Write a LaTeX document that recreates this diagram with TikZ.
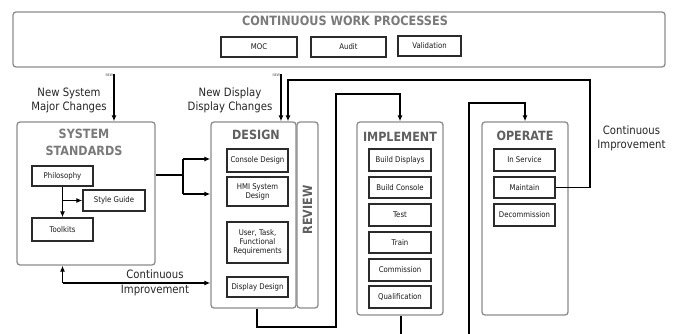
\documentclass[tikz,border=0pt]{standalone}
\usepackage{fontspec}
\setmainfont{DejaVu Sans}[FakeStretch=0.88]
\usetikzlibrary{arrows.meta}
\definecolor{panelline}{HTML}{8C8C8C}
\definecolor{titlegray}{HTML}{606060}
\definecolor{toptitle}{HTML}{7A7A7A}
\definecolor{itemline}{HTML}{2A2A2A}

\begin{document}
\begin{tikzpicture}[x=1pt,y=-1pt,
  panel/.style={draw=panelline, line width=1.3pt, rounded corners=3pt, fill=white, inner sep=0pt},
  item/.style={draw=itemline, line width=1.3pt, fill=white, align=center,
    font=\fontsize{7.9}{9}\selectfont, inner sep=1pt, text=black!90},
  phase/.style={font=\fontsize{12.7}{17}\selectfont\bfseries, text=titlegray, align=center},
  flow/.style={line width=1.6pt, black},
  arr/.style={-{Latex[length=6pt,width=5pt]}},
  note/.style={font=\fontsize{11.5}{14}\selectfont, align=center, text=black!85},
  newtag/.style={font=\fontsize{3.5}{4}\selectfont, inner sep=0pt, text=black!70}]

\fill[white] (0,0) rectangle (680,334);
\useasboundingbox (0,0) rectangle (680,334);
\clip (0,0) rectangle (680,334);

% Continuous work processes band
\node[panel, minimum width=652pt, minimum height=55pt] (cwp) at (339,39.5) {};
\node[font=\fontsize{12.8}{14}\selectfont\bfseries, text=toptitle] (cwpt) at (345,21) {CONTINUOUS WORK PROCESSES};
\node[item, minimum width=76pt, minimum height=20pt] (moc) at (259,47) {MOC};
\node[item, minimum width=75pt, minimum height=20pt] (audit) at (348.5,47) {Audit};
\node[item, minimum width=63pt, minimum height=20pt] (valid) at (429.5,46) {Validation};

% System standards
\node[panel, minimum width=138pt, minimum height=143pt] (std) at (86,193.5) {};
\node[phase, text=toptitle] (stdt) at (84,142) {SYSTEM\\STANDARDS};
\node[item, minimum width=61pt, minimum height=20pt] (phil) at (62.5,176) {Philosophy};
\node[item, minimum width=62pt, minimum height=21pt] (style) at (114,200.5) {Style Guide};
\node[item, minimum width=61pt, minimum height=23pt] (tools) at (62.5,229.5) {Toolkits};

% Design and review
\node[panel, minimum width=85pt, minimum height=186pt] (design) at (253.5,215) {};
\node[panel, minimum width=21pt, minimum height=186pt] (review) at (307.5,215) {};
\node[phase] (designt) at (256,135) {DESIGN};
\node[phase, rotate=90] (reviewt) at (307.5,210) {REVIEW};
\node[item, minimum width=61pt, minimum height=23pt] (console) at (257.5,160.5) {Console Design};
\node[item, minimum width=61pt, minimum height=29pt] (hmi) at (257.5,191.5) {HMI System\\Design};
\node[item, minimum width=61pt, minimum height=41pt] (user) at (257.5,242.5) {User, Task,\\Functional\\Requirements};
\node[item, minimum width=61pt, minimum height=20pt] (disp) at (257.5,287) {Display Design};

% Implement
\node[panel, minimum width=86pt, minimum height=193pt] (impl) at (400,218.5) {};
\node[phase] (implt) at (400,137) {IMPLEMENT};
\node[item, minimum width=62pt, minimum height=22pt] (bdisp) at (400,160) {Build Displays};
\node[item, minimum width=62pt, minimum height=21pt] (bcons) at (400,187.5) {Build Console};
\node[item, minimum width=62pt, minimum height=22pt] (test) at (400,215) {Test};
\node[item, minimum width=62pt, minimum height=21pt] (train) at (400,242.5) {Train};
\node[item, minimum width=62pt, minimum height=22pt] (comm) at (400,270) {Commission};
\node[item, minimum width=62pt, minimum height=22pt] (qual) at (400,297) {Qualification};

% Operate
\node[panel, minimum width=86pt, minimum height=193pt] (oper) at (525,218.5) {};
\node[phase] (opert) at (525,136) {OPERATE};
\node[item, minimum width=61pt, minimum height=22pt] (insvc) at (524.5,160) {In Service};
\node[item, minimum width=61pt, minimum height=21pt] (maint) at (524.5,187.5) {Maintain};
\node[item, minimum width=61pt, minimum height=22pt] (decom) at (524.5,215) {Decommission};

% Labels
\node[note] (nsys) at (69,100) {New System\\Major Changes};
\node[note] (ndisp) at (230,100) {New Display\\Display Changes};
\node[note] (ciright) at (631.5,138) {Continuous\\Improvement};
\node[note, font=\fontsize{11.5}{14.5}\selectfont] (cileft) at (155,283) {Continuous\\Improvement};

% Inside system standards
\draw[flow, line width=1.3pt, arr] (phil.south) -- (tools.north);
\draw[flow, line width=1.3pt, arr] (phil.south |- style.west) -- (style.west);

% Standards feed design
\coordinate (split) at (183,175);
\coordinate (splitA) at (183,159);
\coordinate (splitB) at (183,194);
\draw[flow] (std.east |- split) -- (split);
\draw[flow] (splitA) -- (splitB);
\draw[flow, arr] (splitA) -- (splitA -| design.west);
\draw[flow, arr] (splitB) -- (splitB -| design.west);

% Continuous improvement between design and standards
\coordinate (ciL) at (62.5,283);
\draw[flow, arr] (ciL) -- (ciL -| design.west);
\draw[flow, arr] (ciL) -- (ciL |- std.south);

% New inputs
\coordinate (newA) at (114,74);
\draw[flow, arr] (newA) -- (newA |- std.north);
\node[newtag, anchor=east] (tagA) at (113,75) {NEW};
\coordinate (newB) at (281,74);
\draw[flow, arr] (newB) -- (newB |- design.north);
\node[newtag, anchor=east] (tagB) at (280,75) {NEW};

% Maintain loops back to design
\coordinate (loopR) at (590,80);
\coordinate (loopL) at (288,80);
\draw[flow, arr] (maint.east) -- (maint.east -| loopR) -- (loopR) -- (loopL) -- (loopL |- design.north);

% Design to implement
\coordinate (dDown) at (257,327);
\coordinate (dUp) at (336,94);
\draw[flow, arr] (design.south -| dDown) -- (dDown) -- (dDown -| dUp) -- (dUp) -- (dUp -| impl.north) -- (impl.north);

% Implement to operate
\coordinate (iDown) at (401,345);
\coordinate (oUp) at (469,103);
\draw[flow, arr] (impl.south -| iDown) -- (iDown) -- (iDown -| oUp) -- (oUp) -- (oUp -| oper.north) -- (oper.north);
\end{tikzpicture}
\end{document}
